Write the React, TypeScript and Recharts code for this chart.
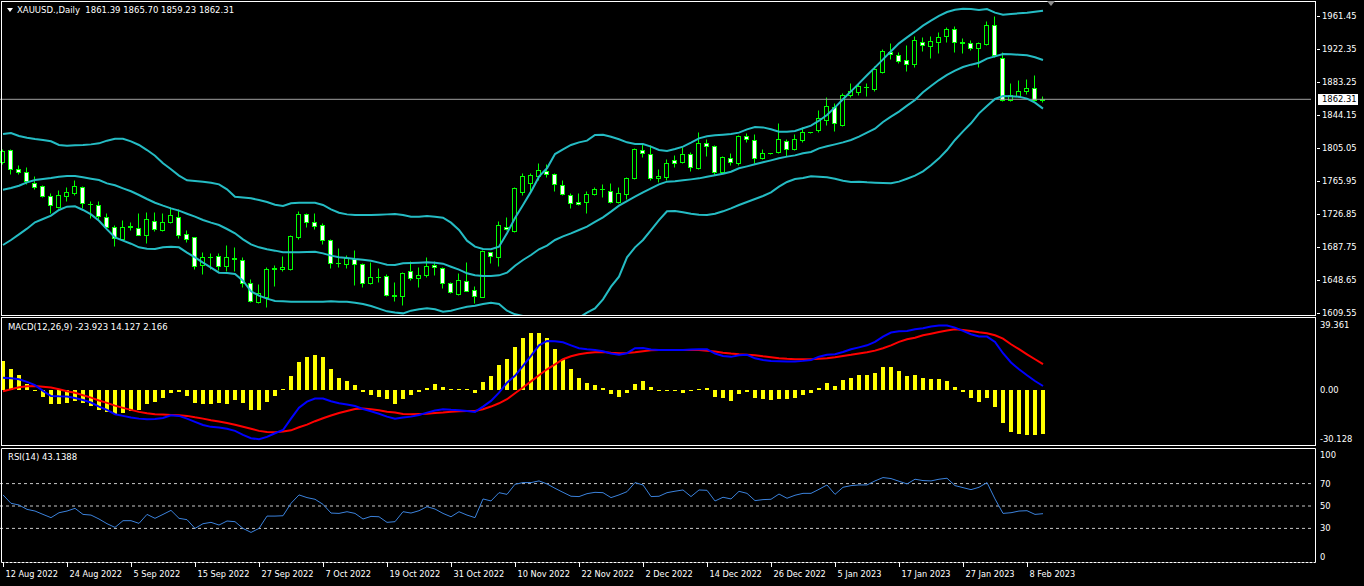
import { ComposedChart, Bar, Line, XAxis, YAxis, ReferenceLine } from 'recharts'

// XAUUSD daily, 12 Aug 2022 .. 10 Feb 2023 (one value per bar)
const opens = [
  1788.5, 1802.3, 1779.5, 1775.9, 1763.3, 1759.8, 1747.5, 1734.9, 1748.3, 1751.1,
  1758.6, 1738.8, 1736.9, 1723.5, 1711.7, 1697.5, 1711.7, 1709.7, 1701.8, 1718.3,
  1707.7, 1717.6, 1723.5, 1702.6, 1699.0, 1666.3, 1675.2, 1676.9, 1665.5, 1674.2,
  1672.2, 1645.4, 1622.9, 1628.1, 1661.6, 1661.2, 1661.2, 1699.8, 1726.2, 1716.8,
  1713.2, 1695.9, 1668.3, 1667.1, 1673.4, 1667.1, 1644.6, 1652.2, 1653.3, 1630.2,
  1629.6, 1659.6, 1650.5, 1654.1, 1666.3, 1662.4, 1644.6, 1632.0, 1647.8, 1636.7,
  1628.8, 1681.6, 1675.4, 1711.7, 1706.9, 1753.1, 1762.9, 1771.6, 1777.9, 1774.0,
  1760.6, 1749.1, 1741.2, 1740.8, 1750.3, 1755.8, 1753.9, 1740.4, 1749.9, 1768.8,
  1802.3, 1797.6, 1768.8, 1770.8, 1790.5, 1788.5, 1797.6, 1780.6, 1810.2, 1807.5,
  1776.7, 1792.5, 1786.6, 1818.9, 1814.2, 1792.5, 1798.4, 1800.4, 1813.0, 1803.5,
  1814.2, 1823.3, 1826.0, 1837.8, 1853.6, 1831.9, 1867.4, 1871.4, 1877.2, 1874.1,
  1895.0, 1918.7, 1914.7, 1908.8, 1903.7, 1930.5, 1925.8, 1930.5, 1937.2, 1945.9,
  1929.8, 1928.5, 1922.6, 1927.3, 1950.2, 1910.8, 1861.5, 1866.6, 1872.5, 1875.3,
  1861.39,
]
const highs = [
  1803.0, 1804.0, 1784.6, 1782.6, 1771.6, 1760.5, 1751.1, 1755.0, 1758.2, 1766.9,
  1759.8, 1741.6, 1741.6, 1727.4, 1713.2, 1719.5, 1717.2, 1727.4, 1729.0, 1729.4,
  1728.2, 1735.3, 1732.2, 1707.7, 1699.8, 1681.3, 1681.0, 1680.1, 1690.0, 1688.0,
  1676.1, 1649.4, 1643.8, 1663.6, 1666.3, 1676.9, 1701.8, 1730.6, 1727.4, 1727.4,
  1715.6, 1696.7, 1686.0, 1678.1, 1684.1, 1668.3, 1670.2, 1662.4, 1655.7, 1646.6,
  1658.4, 1671.0, 1664.3, 1675.4, 1671.0, 1664.3, 1646.6, 1657.2, 1670.2, 1641.5,
  1684.1, 1682.1, 1718.7, 1723.5, 1759.0, 1774.7, 1775.5, 1786.6, 1785.8, 1775.5,
  1766.9, 1751.1, 1751.1, 1754.2, 1759.0, 1761.7, 1763.7, 1759.0, 1770.8, 1804.3,
  1811.0, 1808.3, 1779.5, 1791.3, 1796.4, 1806.3, 1800.4, 1824.0, 1815.0, 1808.3,
  1795.3, 1799.2, 1820.1, 1822.9, 1820.9, 1803.1, 1799.0, 1833.9, 1815.0, 1820.9,
  1829.9, 1824.0, 1849.7, 1865.4, 1857.5, 1870.2, 1881.2, 1881.2, 1881.2, 1901.7,
  1921.4, 1929.3, 1918.7, 1926.5, 1937.2, 1936.4, 1937.2, 1942.3, 1948.2, 1949.0,
  1934.4, 1932.5, 1930.5, 1955.3, 1960.9, 1918.7, 1881.2, 1885.2, 1886.0, 1891.1,
  1865.70,
]
const lows = [
  1786.0, 1773.9, 1773.5, 1762.1, 1755.8, 1746.4, 1728.2, 1733.3, 1741.6, 1749.1,
  1733.3, 1721.5, 1721.1, 1709.7, 1688.8, 1695.9, 1707.7, 1701.8, 1691.9, 1706.9,
  1707.0, 1715.6, 1697.9, 1693.9, 1662.0, 1655.3, 1661.2, 1660.4, 1659.6, 1659.6,
  1640.7, 1622.9, 1621.7, 1616.2, 1641.5, 1659.6, 1660.4, 1697.5, 1711.7, 1708.5,
  1691.2, 1662.4, 1664.3, 1662.4, 1642.6, 1640.7, 1643.8, 1646.6, 1629.6, 1623.7,
  1619.0, 1648.6, 1639.9, 1651.7, 1654.5, 1638.7, 1632.8, 1630.8, 1635.5, 1621.0,
  1628.1, 1668.3, 1665.1, 1707.7, 1705.7, 1749.1, 1753.1, 1766.9, 1770.8, 1754.2,
  1749.1, 1733.3, 1737.3, 1727.4, 1749.1, 1747.1, 1740.0, 1739.3, 1744.0, 1768.0,
  1794.5, 1766.9, 1765.0, 1766.9, 1782.6, 1786.6, 1777.9, 1779.5, 1795.3, 1772.8,
  1775.5, 1784.6, 1784.6, 1812.2, 1786.6, 1791.3, 1797.8, 1799.2, 1795.3, 1802.3,
  1812.2, 1822.6, 1824.0, 1831.9, 1825.2, 1831.0, 1865.4, 1867.4, 1866.2, 1872.5,
  1893.8, 1909.6, 1904.9, 1896.2, 1900.9, 1919.8, 1910.8, 1917.5, 1930.5, 1918.7,
  1916.7, 1920.6, 1900.9, 1926.5, 1912.0, 1860.7, 1860.3, 1865.4, 1868.6, 1860.7,
  1859.23,
]
const closes = [
  1801.2, 1779.5, 1776.3, 1765.7, 1758.9, 1747.9, 1736.9, 1749.1, 1752.3, 1759.8,
  1739.3, 1738.2, 1724.3, 1710.9, 1698.2, 1711.7, 1712.4, 1702.2, 1720.3, 1709.3,
  1716.8, 1725.5, 1701.8, 1697.5, 1665.5, 1675.4, 1675.9, 1665.5, 1675.4, 1673.8,
  1644.6, 1624.1, 1632.8, 1662.0, 1663.2, 1664.3, 1700.6, 1726.6, 1717.6, 1712.4,
  1695.9, 1668.3, 1668.7, 1674.2, 1667.5, 1644.6, 1651.7, 1652.6, 1630.4, 1630.8,
  1657.2, 1650.5, 1654.5, 1665.1, 1663.6, 1645.4, 1634.8, 1648.6, 1635.9, 1630.0,
  1683.3, 1676.9, 1713.6, 1709.3, 1757.0, 1771.6, 1772.8, 1778.7, 1774.0, 1762.1,
  1750.3, 1739.3, 1738.5, 1749.9, 1756.2, 1756.0, 1741.2, 1751.1, 1768.8, 1803.5,
  1798.4, 1768.8, 1771.6, 1786.6, 1787.4, 1797.6, 1781.8, 1811.0, 1807.5, 1776.7,
  1793.7, 1787.8, 1818.9, 1815.0, 1792.5, 1799.2, 1798.6, 1815.0, 1803.5, 1815.0,
  1824.0, 1823.5, 1839.8, 1854.8, 1833.9, 1867.0, 1872.5, 1878.0, 1876.5, 1897.8,
  1919.8, 1915.5, 1908.0, 1903.7, 1932.5, 1926.5, 1931.3, 1936.4, 1945.9, 1930.5,
  1928.5, 1922.6, 1928.5, 1950.2, 1914.3, 1861.5, 1867.4, 1872.1, 1875.3, 1861.5,
  1862.31,
]

// Bollinger bands (20, 2)
const bbUpper = [
  1821.3, 1822.5, 1818.9, 1816.9, 1815.4, 1814.2, 1812.6, 1808.3, 1807.5, 1807.9,
  1808.3, 1809.0, 1810.2, 1813.4, 1815.7, 1815.7, 1812.6, 1808.3, 1802.3, 1795.6,
  1786.6, 1779.5, 1772.0, 1766.5, 1765.7, 1764.9, 1763.7, 1761.7, 1755.8, 1747.1,
  1746.3, 1745.2, 1743.2, 1740.8, 1737.7, 1736.1, 1739.3, 1740.0, 1740.0, 1740.0,
  1737.3, 1732.2, 1728.2, 1726.2, 1725.5, 1725.5, 1725.5, 1725.9, 1726.2, 1726.6,
  1725.5, 1723.5, 1723.5, 1724.3, 1723.5, 1722.3, 1716.4, 1707.7, 1695.1, 1688.0,
  1685.2, 1684.9, 1688.0, 1703.8, 1721.9, 1737.3, 1753.1, 1770.8, 1780.7, 1797.6,
  1803.1, 1808.3, 1811.4, 1813.4, 1820.1, 1820.5, 1818.1, 1815.0, 1811.4, 1809.4,
  1809.4, 1806.3, 1802.3, 1801.2, 1803.5, 1806.3, 1811.0, 1816.1, 1818.5, 1819.7,
  1820.5, 1821.3, 1822.9, 1826.8, 1829.5, 1829.1, 1826.8, 1824.0, 1824.0, 1824.8,
  1828.0, 1831.1, 1837.0, 1843.7, 1852.8, 1862.3, 1871.7, 1881.2, 1890.7, 1900.1,
  1909.6, 1919.1, 1928.5, 1935.6, 1942.3, 1949.4, 1955.3, 1960.9, 1965.6, 1968.3,
  1969.5, 1969.1, 1968.0, 1969.1, 1964.8, 1962.4, 1963.2, 1964.0, 1964.8, 1966.0,
  1967.2,
]
const bbMiddle = [
  1755.4, 1757.4, 1760.1, 1764.1, 1766.9, 1768.0, 1769.2, 1770.8, 1771.6, 1771.6,
  1770.0, 1768.4, 1766.9, 1762.9, 1760.6, 1757.0, 1753.5, 1749.1, 1744.4, 1740.0,
  1736.5, 1733.3, 1730.6, 1727.0, 1723.5, 1719.5, 1716.4, 1713.6, 1708.9, 1703.8,
  1696.7, 1690.7, 1687.2, 1684.9, 1683.3, 1681.3, 1681.3, 1681.3, 1681.7, 1682.1,
  1680.1, 1677.4, 1675.4, 1674.6, 1673.4, 1672.6, 1671.4, 1669.1, 1666.7, 1666.3,
  1668.3, 1668.7, 1669.1, 1669.5, 1669.1, 1667.9, 1664.3, 1660.8, 1656.5, 1654.1,
  1653.3, 1653.3, 1654.1, 1657.2, 1665.5, 1672.2, 1678.1, 1684.9, 1689.2, 1695.9,
  1700.2, 1703.8, 1707.7, 1711.7, 1717.2, 1722.7, 1729.4, 1736.5, 1742.0, 1747.1,
  1752.3, 1757.0, 1761.7, 1764.9, 1765.3, 1766.5, 1767.6, 1768.8, 1770.8, 1772.4,
  1774.3, 1776.7, 1780.7, 1783.0, 1785.4, 1787.8, 1790.1, 1792.5, 1794.5, 1796.0,
  1798.4, 1800.0, 1804.3, 1806.7, 1809.0, 1811.4, 1814.2, 1818.1, 1822.9, 1827.6,
  1835.5, 1841.8, 1847.7, 1854.8, 1861.5, 1870.6, 1878.0, 1885.1, 1891.1, 1896.2,
  1900.5, 1903.3, 1905.6, 1910.4, 1913.1, 1915.9, 1915.5, 1915.1, 1914.3, 1912.0,
  1908.8,
]
const bbLower = [
  1690.0, 1695.9, 1702.6, 1709.3, 1716.8, 1720.7, 1724.7, 1731.4, 1735.3, 1735.7,
  1731.4, 1726.2, 1718.7, 1708.5, 1699.0, 1695.1, 1691.5, 1687.2, 1685.6, 1685.2,
  1687.2, 1688.0, 1687.2, 1680.9, 1675.4, 1669.1, 1663.2, 1657.2, 1656.9, 1655.7,
  1647.8, 1635.2, 1630.0, 1626.5, 1623.7, 1623.3, 1622.9, 1622.9, 1622.9, 1622.9,
  1622.9, 1623.3, 1622.9, 1622.9, 1621.7, 1620.2, 1617.8, 1614.7, 1611.5, 1610.0,
  1609.1, 1612.3, 1613.9, 1615.0, 1613.9, 1611.1, 1612.3, 1614.7, 1617.0, 1618.2,
  1620.2, 1621.7, 1620.2, 1612.3, 1608.0, 1606.0, 1603.1, 1599.0, 1597.7, 1594.2,
  1597.3, 1599.3, 1604.0, 1610.0, 1615.0, 1625.7, 1640.7, 1652.5, 1675.4, 1687.2,
  1695.9, 1707.7, 1719.5, 1729.8, 1730.2, 1728.6, 1727.0, 1725.9, 1725.5, 1727.0,
  1729.8, 1733.3, 1737.3, 1740.8, 1744.4, 1747.9, 1752.3, 1759.0, 1764.5, 1768.0,
  1769.2, 1771.2, 1770.8, 1770.0, 1768.4, 1766.1, 1764.5, 1764.9, 1764.1, 1763.7,
  1763.3, 1762.9, 1764.9, 1768.4, 1772.0, 1777.1, 1784.2, 1792.5, 1802.3, 1814.2,
  1824.4, 1833.9, 1845.7, 1854.4, 1862.7, 1866.2, 1865.8, 1865.4, 1863.1, 1858.3,
  1851.3,
]

// MACD(12,26,9): main (blue), signal (red), histogram (yellow)
const macdMain = [
  6.7, 6.4, 5.8, 4.4, 2.6, -0.5, -3.3, -3.5, -3.6, -4.4,
  -5.5, -6.9, -9.1, -10.9, -13.3, -14.2, -15.1, -15.7, -16.1, -15.9,
  -15.3, -13.9, -14.2, -15.7, -17.5, -19.2, -20.2, -20.6, -21.2, -22.4,
  -24.6, -26.4, -27.0, -25.7, -23.7, -21.9, -15.7, -9.7, -6.4, -4.7,
  -4.7, -6.2, -7.3, -8.0, -8.8, -10.4, -11.7, -13.0, -14.6, -15.7,
  -15.1, -14.6, -13.7, -12.4, -11.3, -10.6, -10.9, -11.1, -11.5, -12.0,
  -9.1, -6.0, -1.5, 4.0, 7.7, 13.1, 18.6, 24.4, 26.8, 26.6,
  26.1, 24.4, 22.8, 22.3, 21.9, 21.2, 19.9, 19.3, 20.1, 22.8,
  23.0, 22.1, 21.9, 21.9, 21.9, 21.9, 22.1, 22.3, 22.3, 19.9,
  18.6, 18.1, 19.0, 19.2, 17.3, 16.4, 15.9, 15.7, 15.5, 15.5,
  15.9, 16.4, 18.2, 19.2, 19.5, 20.8, 22.3, 23.3, 24.4, 26.3,
  29.2, 31.4, 32.1, 32.3, 33.2, 33.7, 34.7, 35.2, 35.2, 34.1,
  32.3, 30.5, 29.2, 29.2, 26.3, 20.1, 15.0, 11.3, 8.0, 4.9,
  2.166,
]
const macdSignal = [
  -0.7, 0.4, 1.5, 2.0, 2.2, 1.8, 1.3, 0.4, -0.7, -1.5,
  -2.9, -4.2, -5.8, -7.1, -8.6, -9.8, -10.9, -12.0, -12.8, -13.3,
  -13.5, -13.7, -13.9, -14.2, -15.0, -15.7, -16.6, -17.3, -18.1, -19.0,
  -20.1, -21.2, -22.4, -23.0, -23.2, -22.8, -22.1, -20.4, -19.0, -17.1,
  -15.5, -14.0, -12.6, -11.5, -10.4, -10.2, -10.6, -11.1, -11.9, -12.4,
  -13.1, -13.3, -13.1, -13.0, -12.6, -12.4, -12.0, -11.7, -11.5, -11.5,
  -10.6, -9.1, -7.3, -5.1, -1.8, 1.3, 4.7, 8.0, 11.3, 14.0,
  16.8, 18.4, 19.5, 20.2, 20.6, 20.8, 20.4, 20.1, 20.2, 20.6,
  21.2, 21.7, 21.9, 21.9, 21.9, 21.9, 21.9, 21.9, 21.5, 21.0,
  20.4, 19.9, 19.5, 19.3, 19.0, 18.4, 17.9, 17.3, 17.0, 16.8,
  16.8, 16.8, 17.0, 17.3, 17.9, 18.6, 19.2, 19.9, 20.6, 21.5,
  22.8, 24.4, 26.3, 27.7, 28.6, 29.9, 30.8, 31.7, 32.5, 33.2,
  32.8, 32.3, 31.6, 31.0, 29.9, 28.1, 25.0, 22.3, 19.5, 16.8,
  14.127,
]
const macdHist = [
  15.9, 11.7, 8.0, 3.1, -0.4, -3.6, -7.8, -7.8, -7.3, -6.0,
  -7.3, -8.8, -10.9, -12.0, -13.3, -12.8, -11.5, -10.9, -7.8, -6.6,
  -4.2, -1.5, -1.1, -3.3, -7.3, -7.8, -7.8, -7.3, -7.8, -5.5,
  -7.3, -10.9, -10.9, -6.6, -3.3, 0.7, 7.7, 15.3, 18.2, 19.0,
  18.2, 11.3, 6.7, 4.9, 2.7, -1.1, -2.9, -4.0, -5.1, -7.8,
  -4.7, -2.9, -1.1, 1.3, 3.1, 1.8, 0.4, 0.4, 0.4, -1.5,
  4.6, 7.7, 13.7, 16.8, 23.5, 28.3, 31.0, 31.0, 28.6, 22.3,
  16.8, 11.7, 6.7, 4.0, 2.7, 1.3, -2.4, -3.6, -1.5, 3.1,
  4.9, 1.8, -0.5, 0.2, 0.0, -1.5, 0.2, 0.7, 1.1, -3.6,
  -4.2, -5.8, -2.4, -1.1, -4.2, -5.1, -5.5, -4.7, -4.7, -4.2,
  -2.9, -1.8, 1.3, 3.6, 2.2, 5.5, 6.7, 8.0, 8.0, 9.5,
  12.6, 12.6, 10.4, 7.7, 8.0, 6.7, 6.2, 5.8, 4.9, 1.8,
  -1.1, -4.2, -6.4, -4.2, -9.1, -17.9, -23.0, -24.3, -24.4, -24.8,
  -23.923,
]

// RSI(14)
const rsi = [
  59.9, 52.4, 50.9, 47.0, 45.5, 42.5, 39.6, 44.0, 45.5, 47.9,
  42.5, 41.9, 38.4, 34.2, 30.9, 36.9, 36.9, 34.5, 42.5, 39.0,
  42.5, 46.1, 39.0, 37.8, 30.0, 34.2, 35.4, 33.0, 36.6, 36.0,
  30.0, 26.4, 30.0, 41.0, 41.0, 41.3, 52.4, 59.9, 57.5, 56.0,
  51.5, 43.7, 43.4, 44.9, 43.4, 38.4, 40.7, 40.4, 35.4, 36.0,
  44.9, 43.7, 45.8, 49.4, 47.3, 43.4, 40.4, 44.9, 41.9, 39.6,
  56.3, 54.5, 61.9, 60.4, 69.4, 70.9, 70.9, 72.4, 69.7, 65.8,
  62.2, 58.7, 58.4, 61.0, 62.2, 61.9, 57.5, 59.9, 62.8, 70.9,
  68.8, 58.4, 58.7, 61.9, 63.2, 64.3, 58.4, 64.3, 64.0, 54.5,
  57.8, 56.3, 63.1, 61.3, 54.8, 55.7, 56.0, 60.7, 56.9, 59.6,
  61.3, 61.3, 64.9, 68.8, 60.4, 66.7, 68.2, 68.8, 68.8, 72.4,
  75.4, 74.5, 72.1, 69.7, 73.9, 72.7, 72.4, 73.9, 74.8, 68.2,
  66.4, 64.6, 66.7, 70.9, 56.3, 43.4, 44.0, 45.5, 45.8, 42.5,
  43.1388,
]

// time scale labels, one every 8 bars
const tickLabels = [
  '12 Aug 2022', '24 Aug 2022', '5 Sep 2022', '15 Sep 2022', '27 Sep 2022', '7 Oct 2022',
  '19 Oct 2022', '31 Oct 2022', '10 Nov 2022', '22 Nov 2022', '2 Dec 2022', '14 Dec 2022',
  '26 Dec 2022', '5 Jan 2023', '17 Jan 2023', '27 Jan 2023', '8 Feb 2023',
]
const tickBars = tickLabels.map((_, k) => k * 8)

const priceTicks = [1961.45, 1922.35, 1883.25, 1844.15, 1805.05, 1765.95, 1726.85, 1687.75, 1648.65, 1609.55]
const macdTicks = [39.361, 0, -30.128]
const macdTickText = ['39.361', '0.00', '-30.128']
const rsiTicks = [100, 70, 50, 30, 0]
const rsiLevels = [70, 50, 30]

const last = closes.length - 1
const bidPrice = closes[last]

const SLOTS = 164
const FONT = '"DejaVu Sans", sans-serif'
const GREEN = '#00ff00'
const BAND = '#25bcc4'

const pick = (arr: number[], i: number) => (i < arr.length ? arr[i] : null)
const rows = Array.from({ length: SLOTS }, (_, i) => ({
  i,
  open: pick(opens, i),
  high: pick(highs, i),
  low: pick(lows, i),
  close: pick(closes, i),
  upper: pick(bbUpper, i),
  middle: pick(bbMiddle, i),
  lower: pick(bbLower, i),
  macd: pick(macdMain, i),
  signal: pick(macdSignal, i),
  hist: pick(macdHist, i),
  rsi: pick(rsi, i),
}))

const candleRange = (d: any) => (d.high == null ? null : [d.low, d.high])

const Candle = (props: any) => {
  const { x, y, width, height, payload } = props
  if (!payload || payload.high == null || !Number.isFinite(y)) return null
  const { open, close, high, low } = payload
  const k = high > low ? height / (high - low) : 0
  const py = (v: number) => Math.round(y + (high - v) * k) + 0.5
  const c = Math.floor(x + width / 2) + 0.5
  const top = py(Math.max(open, close))
  const bot = py(Math.min(open, close))
  return (
    <g>
      <line x1={c} x2={c} y1={py(high)} y2={py(low)} stroke={GREEN} />
      {bot - top < 1 ? (
        <line x1={c - 2.5} x2={c + 2.5} y1={top} y2={top} stroke={GREEN} />
      ) : (
        <rect x={c - 2} y={top} width={4} height={bot - top} fill={close >= open ? '#000' : '#fff'} stroke={GREEN} />
      )}
    </g>
  )
}

const HistBar = (props: any) => {
  const { x, y, width, height, payload } = props
  if (!payload || payload.hist == null || !Number.isFinite(y)) return null
  const top = height >= 0 ? y : y + height
  return <rect x={x} y={Math.round(top)} width={width} height={Math.max(1, Math.round(Math.abs(height)))} fill="#ffff00" />
}

const label = { fill: '#fff', fontSize: 8.4, fontFamily: FONT }

const PriceTick = ({ y, payload }: any) => {
  const v = payload.value
  if (v === bidPrice) {
    return (
      <g>
        <rect x={1319} y={Math.round(y) - 5} width={40} height={11} fill="#fff" />
        <text x={1323} y={y + 3} {...label} fill="#000">{v.toFixed(2)}</text>
      </g>
    )
  }
  const ly = Math.round(y) + 0.5
  return (
    <g>
      <line x1={1318} x2={1321} y1={ly} y2={ly} stroke="#fff" />
      <text x={1323} y={y + 3} {...label}>{v.toFixed(2)}</text>
    </g>
  )
}

const MacdTick = ({ y, index }: any) => {
  const shift = index === 0 ? 6.5 : index === macdTicks.length - 1 ? -6 : 0
  return <text x={1321} y={y + shift + 3} {...label}>{macdTickText[index]}</text>
}

const RsiTick = ({ y, payload, index }: any) => {
  const shift = index === 0 ? 5 : index === rsiTicks.length - 1 ? -5 : 0
  return <text x={1321} y={y + shift + 3} {...label}>{payload.value}</text>
}

const DateTick = ({ x, payload }: any) => {
  const k = tickBars.indexOf(payload.value)
  const cx = Math.floor(x) + 0.5
  return (
    <g>
      <line x1={cx} x2={cx} y1={116} y2={120} stroke="#fff" />
      <text x={cx + 2} y={130} {...label} fontSize={8.2}>{tickLabels[k]}</text>
    </g>
  )
}

const yAxisCommon = { orientation: 'right' as const, width: 53, interval: 0 as const, tickLine: false, axisLine: false }

export default function App() {
  const header = `XAUUSD.,Daily  ${opens[last].toFixed(2)} ${highs[last].toFixed(2)} ${lows[last].toFixed(2)} ${closes[last].toFixed(2)}`
  const macdHeader = `MACD(12,26,9) ${macdHist[last].toFixed(3)} ${macdSignal[last].toFixed(3)} ${macdMain[last].toFixed(3)}`
  const rsiHeader = `RSI(14) ${rsi[last].toFixed(4)}`
  const headText = { fill: '#fff', fontSize: 8.5, fontFamily: FONT, style: { whiteSpace: 'pre' as const } }

  return (
    <div style={{ position: 'absolute', left: 0, top: 0, width: 1364, height: 586, background: '#000', overflow: 'hidden' }}>
      <div style={{ position: 'absolute', left: -1, top: 0 }}>
        <ComposedChart width={1365} height={317} data={rows} margin={{ top: 2, right: 0, bottom: 2, left: 0 }}>
          <XAxis dataKey="i" type="category" scale="band" hide />
          <YAxis {...yAxisCommon} domain={[1607.17, 1977.42]} allowDataOverflow ticks={[...priceTicks, bidPrice]} tick={<PriceTick />} />
          <ReferenceLine y={bidPrice} stroke="#a0a0a0" />
          <Bar dataKey={candleRange} barSize={8} shape={(p: any) => <Candle {...p} />} isAnimationActive={false} />
          <Line dataKey="upper" stroke={BAND} strokeWidth={2} dot={false} isAnimationActive={false} />
          <Line dataKey="middle" stroke={BAND} strokeWidth={2} dot={false} isAnimationActive={false} />
          <Line dataKey="lower" stroke={BAND} strokeWidth={2} dot={false} isAnimationActive={false} />
        </ComposedChart>
      </div>

      <div style={{ position: 'absolute', left: -1, top: 316 }}>
        <ComposedChart width={1365} height={130} data={rows} margin={{ top: 2, right: 0, bottom: 1, left: 0 }}>
          <XAxis dataKey="i" type="category" scale="band" hide />
          <YAxis {...yAxisCommon} domain={[-30.128, 39.361]} allowDataOverflow ticks={macdTicks} tick={<MacdTick />} />
          <Bar dataKey="hist" barSize={4} shape={(p: any) => <HistBar {...p} />} isAnimationActive={false} />
          <Line dataKey="signal" stroke="#ff0000" strokeWidth={2} dot={false} isAnimationActive={false} />
          <Line dataKey="macd" stroke="#0000ff" strokeWidth={2} dot={false} isAnimationActive={false} />
        </ComposedChart>
      </div>

      <div style={{ position: 'absolute', left: -1, top: 447 }}>
        <ComposedChart width={1365} height={139} data={rows} margin={{ top: 3, right: 0, bottom: 0, left: 0 }}>
          <XAxis dataKey="i" type="category" scale="band" ticks={tickBars} interval={0} tick={<DateTick />} tickLine={false} axisLine={false} height={24} />
          <YAxis {...yAxisCommon} domain={[0, 100]} ticks={rsiTicks} tick={<RsiTick />} />
          {rsiLevels.map((lv) => (
            <ReferenceLine key={lv} y={lv} stroke="#c8c8c8" strokeDasharray="3 3" />
          ))}
          <Line dataKey="rsi" stroke="#3b82dc" strokeWidth={1} dot={false} isAnimationActive={false} />
        </ComposedChart>
      </div>

      <svg width={1364} height={586} style={{ position: 'absolute', left: 0, top: 0, pointerEvents: 'none' }}>
        <rect x={1.5} y={1.5} width={1314} height={314} fill="none" stroke="#fff" />
        <rect x={1.5} y={317.5} width={1314} height={128} fill="none" stroke="#fff" />
        <path d="M1.5 562.5 V448.5 H1315.5 V562.5" fill="none" stroke="#fff" />
        <line x1={1.5} x2={1315.5} y1={562.5} y2={562.5} stroke="#fff" strokeDasharray="3 1" />
        <polygon points="1047,1 1055,1 1051,6" fill="#8c8c8c" />
        <polygon points="7,8 13,8 10,12" fill="#fff" />
        <text x={17} y={13} {...headText}>{header}</text>
        <text x={8} y={330} {...headText}>{macdHeader}</text>
        <text x={8} y={460} {...headText}>{rsiHeader}</text>
      </svg>
    </div>
  )
}
